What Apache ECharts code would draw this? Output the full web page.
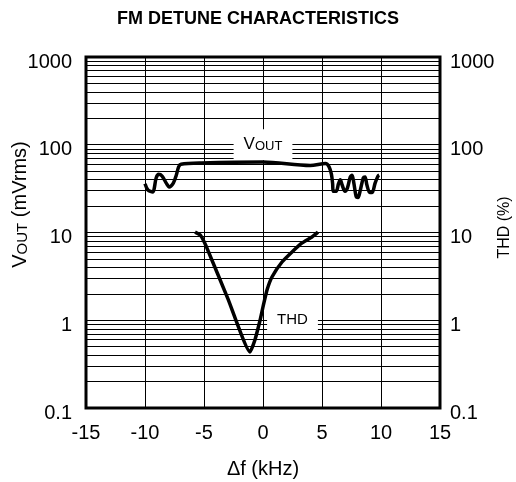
<!DOCTYPE html>
<html>
<head>
<meta charset="utf-8">
<script src="https://cdn.jsdelivr.net/npm/echarts@6/dist/echarts.min.js"></script>
<style>
  html, body { margin: 0; padding: 0; background: #fff; }
  #chart { width: 516px; height: 482px; }
</style>
</head>
<body>
<div id="chart"></div>
<script>
// detune in kHz
var voutData = [
  [-10.0, 36], [-9.75, 30.5], [-9.35, 29], [-9.05, 42], [-8.85, 46], [-8.55, 44],
  [-8.2, 36.5], [-7.95, 33], [-7.6, 36.5], [-7.35, 45], [-7.15, 56], [-6.95, 60],
  [-5.2, 62], [0, 63.5], [4.0, 58], [5.3, 61], [5.6, 56], [5.8, 46], [5.9, 36],
  [5.95, 29.5], [6.2, 29.5], [6.4, 36], [6.55, 40], [6.7, 35], [6.95, 29.5],
  [7.15, 32], [7.4, 43], [7.55, 45], [7.7, 36.5], [7.9, 25.5], [8.05, 25],
  [8.25, 30.5], [8.5, 42], [8.65, 43], [8.8, 35], [9.05, 28.5], [9.25, 28.5],
  [9.5, 36.5], [9.75, 44], [9.85, 45]
]
var thdData = [
  [-5.76, 10.1], [-5.3, 9.3], [-4.75, 6.65], [-2.97, 1.75], [-1.1, 0.435],
  [-0.68, 0.6], [-0.25, 1.0], [0.0, 1.42], [0.34, 2.21], [0.76, 3.11],
  [1.61, 4.61], [2.46, 6.0], [3.31, 7.6], [4.15, 8.9], [4.66, 10.1]
]
var xTicks = [-15, -10, -5, 0, 5, 10, 15]
var yMin = 0.1
var yMax = 1000
// minor log grid lines 2..9 in every decade
var minorLines = []
;[0.1, 1, 10, 100].forEach(function (d) {
  for (var k = 2; k <= 9; k++) minorLines.push(+(d * k).toPrecision(3))
})

var font = '"Liberation Sans", Arial, sans-serif'
var chart = echarts.init(document.getElementById('chart'))

function yLabel(v) {
  return v < 1 ? String(+v.toPrecision(2)) : String(Math.round(v))
}

chart.setOption({
  animation: false,
  title: {
    text: 'FM DETUNE CHARACTERISTICS',
    left: 'center',
    top: 5,
    textStyle: { fontFamily: font, fontSize: 18, fontWeight: 'bold', color: '#000' }
  },
  grid: {
    left: 86, right: 76, top: 57, bottom: 74,
    outerBoundsMode: 'none',
    show: true, borderWidth: 3, borderColor: '#000', backgroundColor: '#fff'
  },
  xAxis: {
    type: 'value',
    min: xTicks[0],
    max: xTicks[xTicks.length - 1],
    interval: 5,
    name: 'Δf (kHz)',
    nameLocation: 'middle',
    nameGap: 51,
    nameMoveOverlap: false,
    nameTextStyle: { fontFamily: font, fontSize: 20, color: '#000' },
    axisLine: { show: false },
    axisTick: { show: false },
    axisLabel: { fontFamily: font, fontSize: 20, color: '#000', margin: 15 },
    splitLine: { show: true, lineStyle: { color: '#000', width: 1 } }
  },
  yAxis: [
    {
      type: 'log',
      logBase: 10,
      min: yMin,
      max: yMax,
      position: 'left',
      name: 'V{s|OUT} (mVrms)',
      nameLocation: 'middle',
      nameGap: 56,
      nameRotate: 90,
      nameMoveOverlap: false,
      nameTextStyle: {
        fontFamily: font, fontSize: 20, color: '#000',
        padding: [0, 0, 0, 56],
        rich: { s: { fontFamily: font, fontSize: 15, color: '#000', verticalAlign: 'bottom' } }
      },
      axisLine: { show: false },
      axisTick: { show: false },
      axisLabel: {
        fontFamily: font, fontSize: 20, color: '#000', margin: 14,
        verticalAlign: 'top', lineHeight: 10, formatter: yLabel
      },
      splitLine: { show: true, lineStyle: { color: '#000', width: 1 } }
    },
    {
      type: 'log',
      logBase: 10,
      min: yMin,
      max: yMax,
      position: 'right',
      name: 'THD (%)',
      nameLocation: 'middle',
      nameGap: 57,
      nameRotate: 90,
      nameMoveOverlap: false,
      nameTextStyle: { fontFamily: font, fontSize: 16, color: '#000', padding: [0, 0, 0, 10] },
      axisLine: { show: false },
      axisTick: { show: false },
      axisLabel: {
        fontFamily: font, fontSize: 20, color: '#000', margin: 10,
        verticalAlign: 'top', lineHeight: 10, formatter: yLabel
      },
      splitLine: { show: false }
    }
  ],
  series: [
    {
      // minor grid
      type: 'line',
      data: [],
      z: 1,
      silent: true,
      markLine: {
        silent: true,
        symbol: 'none',
        animation: false,
        label: { show: false },
        lineStyle: { color: '#000', width: 1, type: 'solid' },
        data: minorLines.map(function (v) { return { yAxis: v } })
      }
    },
    {
      name: 'VOUT',
      type: 'line',
      z: 5,
      data: voutData,
      smooth: 0.3,
      showSymbol: false,
      lineStyle: { color: '#000', width: 3.5 },
      markPoint: {
        symbol: 'rect',
        symbolSize: 0,
        silent: true,
        data: [{ coord: [0, 100] }],
        label: {
          show: true,
          formatter: 'V{s|OUT}',
          position: 'inside',
          backgroundColor: '#fff',
          padding: [7, 10, 7, 10],
          fontFamily: font, fontSize: 17, color: '#000',
          rich: { s: { fontFamily: font, fontSize: 13, color: '#000', verticalAlign: 'bottom' } }
        }
      }
    },
    {
      name: 'THD',
      type: 'line',
      z: 5,
      data: thdData,
      smooth: 0.15,
      showSymbol: false,
      lineStyle: { color: '#000', width: 3.5 },
      markPoint: {
        symbol: 'rect',
        symbolSize: 0,
        silent: true,
        data: [{ coord: [2.5, 1.0] }],
        label: {
          show: true,
          formatter: 'THD',
          position: 'inside',
          backgroundColor: '#fff',
          padding: [5, 10, 5, 10],
          fontFamily: font, fontSize: 15, color: '#000'
        }
      }
    }
  ]
})
</script>
</body>
</html>
